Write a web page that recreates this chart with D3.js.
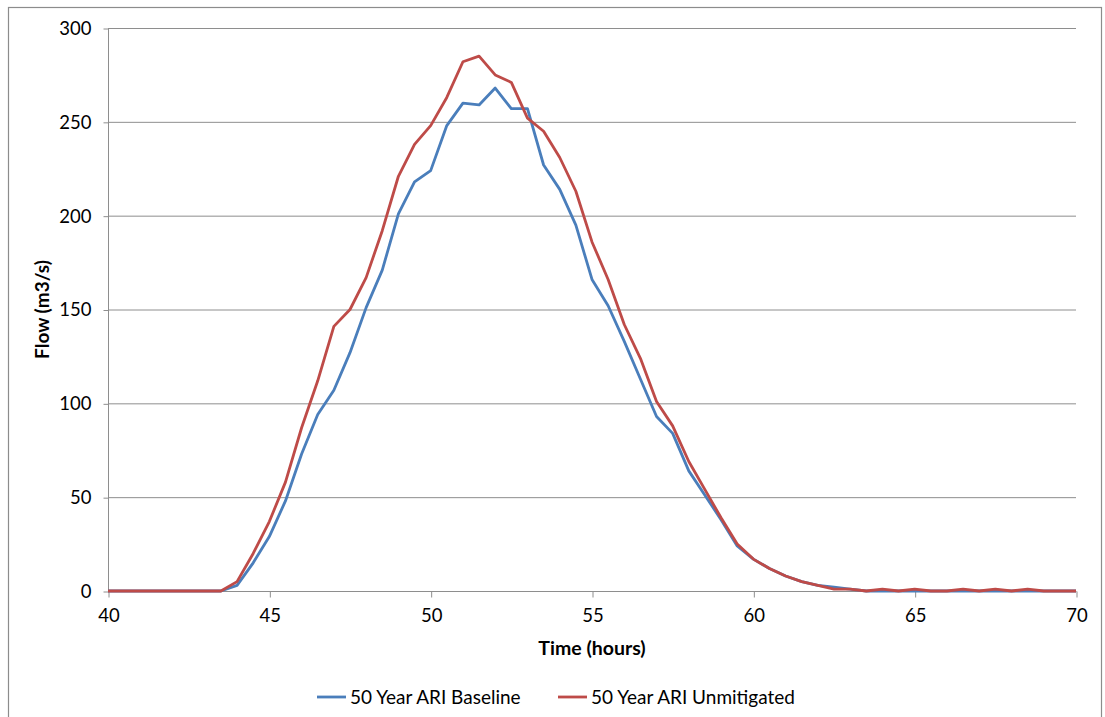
<!DOCTYPE html>
<html>
<head>
<meta charset="utf-8">
<script src="https://cdn.jsdelivr.net/npm/d3@7"></script>
<style>
  body { margin: 0; background: #fff; }
  text { font-family: Lato, "Open Sans", "DejaVu Sans", sans-serif; fill: #000; }
</style>
</head>
<body>
<div id="chart"></div>
<script>
// hours, every half hour from 40 to 70
var times = [40, 40.5, 41, 41.5, 42, 42.5, 43, 43.5, 44, 44.5, 45, 45.5, 46, 46.5, 47, 47.5,
  48, 48.5, 49, 49.5, 50, 50.5, 51, 51.5, 52, 52.5, 53, 53.5, 54, 54.5, 55, 55.5,
  56, 56.5, 57, 57.5, 58, 58.5, 59, 59.5, 60, 60.5, 61, 61.5, 62, 62.5, 63, 63.5,
  64, 64.5, 65, 65.5, 66, 66.5, 67, 67.5, 68, 68.5, 69, 69.5, 70]

var baseline = [0, 0, 0, 0, 0, 0, 0, 0, 3, 15, 29, 48, 73, 94, 107, 127,
  151, 171, 201, 218, 224, 248, 260, 259, 268, 257, 257, 227, 214, 195, 166, 152,
  133, 113, 93, 84, 64, 51, 38, 24, 17, 12, 8, 5, 3, 2, 1, 0,
  0, 0, 0, 0, 0, 0, 0, 0, 0, 0, 0, 0, 0]

var unmitigated = [0, 0, 0, 0, 0, 0, 0, 0, 5, 20, 37, 58, 87, 112, 141, 150,
  167, 192, 221, 238, 248, 263, 282, 285, 275, 271, 252, 245, 231, 213, 186, 166,
  142, 124, 101, 88, 69, 54, 39, 25, 17, 12, 8, 5, 3, 1, 1, 0,
  1, 0, 1, 0, 0, 1, 0, 1, 0, 1, 0, 0, 0]

var seriesNames = ["50 Year ARI Baseline", "50 Year ARI Unmitigated"]
var seriesColors = ["#4a7ebb", "#be4b48"]
var xTicks = [40, 45, 50, 55, 60, 65, 70]
var yTicks = [0, 50, 100, 150, 200, 250, 300]

var W = 1105, H = 717
var margin = {left: 108, right: 29, top: 28, bottom: 126}
var width = W - margin.left - margin.right
var height = H - margin.top - margin.bottom

var svg = d3.select("#chart").append("svg")
    .attr("width", W)
    .attr("height", H)

// outer chart border
svg.append("rect")
    .attr("x", 8.5).attr("y", 7.5)
    .attr("width", 1093).attr("height", 720)
    .attr("fill", "none")
    .attr("stroke", "#8c8c8c")
    .attr("stroke-width", 1.2)

var x = d3.scaleLinear().domain([40, 70]).range([0, width])
var y = d3.scaleLinear().domain([0, 300]).range([height, 0])

var g = svg.append("g")
    .attr("transform", "translate(" + margin.left + "," + margin.top + ")")

// gridlines
g.selectAll(".grid")
    .data(yTicks.filter(function(d) { return d > 0 }))
    .enter().append("line")
    .attr("x1", 0).attr("x2", width)
    .attr("y1", function(d) { return y(d) + 0.5 })
    .attr("y2", function(d) { return y(d) + 0.5 })
    .attr("stroke", "#8e8e8e")
    .attr("stroke-width", 1)

// y axis
var yAxis = g.append("g")
    .attr("transform", "translate(0.5,0.5)")
    .call(d3.axisLeft(y).tickValues(yTicks).tickSize(5).tickPadding(12))
yAxis.select(".domain").attr("stroke", "#8e8e8e").attr("d", "M0," + height + "V0")
yAxis.selectAll(".tick line").attr("stroke", "#8e8e8e")
yAxis.selectAll("text").style("font-size", "18.5px")

// x axis
var xAxis = g.append("g")
    .attr("transform", "translate(0.5," + (height + 0.5) + ")")
    .call(d3.axisBottom(x).tickValues(xTicks).tickSize(6).tickPadding(11))
xAxis.select(".domain").attr("stroke", "#8e8e8e").attr("d", "M0,0H" + width)
xAxis.selectAll(".tick line").attr("stroke", "#8e8e8e")
xAxis.selectAll("text").style("font-size", "18.5px")

// axis titles
svg.append("text")
    .attr("x", margin.left + width / 2)
    .attr("y", 655)
    .attr("text-anchor", "middle")
    .style("font-size", "19.5px")
    .style("font-weight", "bold")
    .text("Time (hours)")

svg.append("text")
    .attr("transform", "translate(49," + (margin.top + height / 2) + ") rotate(-90)")
    .attr("text-anchor", "middle")
    .style("font-size", "19px")
    .style("font-weight", "bold")
    .text("Flow (m3/s)")

// lines
var line = d3.line()
    .x(function(d, i) { return x(times[i]) })
    .y(function(d) { return y(d) })

;[baseline, unmitigated].forEach(function(vals, i) {
  g.append("path")
      .datum(vals)
      .attr("d", line)
      .attr("fill", "none")
      .attr("stroke", seriesColors[i])
      .attr("stroke-width", 2.8)
      .attr("stroke-linejoin", "round")
})

// legend
var legendX = [317, 558]
var legend = svg.selectAll(".legend")
    .data(seriesNames)
    .enter().append("g")
    .attr("transform", function(d, i) { return "translate(" + legendX[i] + ",697)" })

legend.append("line")
    .attr("x1", 0).attr("x2", 29)
    .attr("stroke", function(d, i) { return seriesColors[i] })
    .attr("stroke-width", 2.8)

legend.append("text")
    .attr("x", 33)
    .attr("dy", "0.35em")
    .style("font-size", "19px")
    .text(function(d) { return d })
</script>
</body>
</html>
